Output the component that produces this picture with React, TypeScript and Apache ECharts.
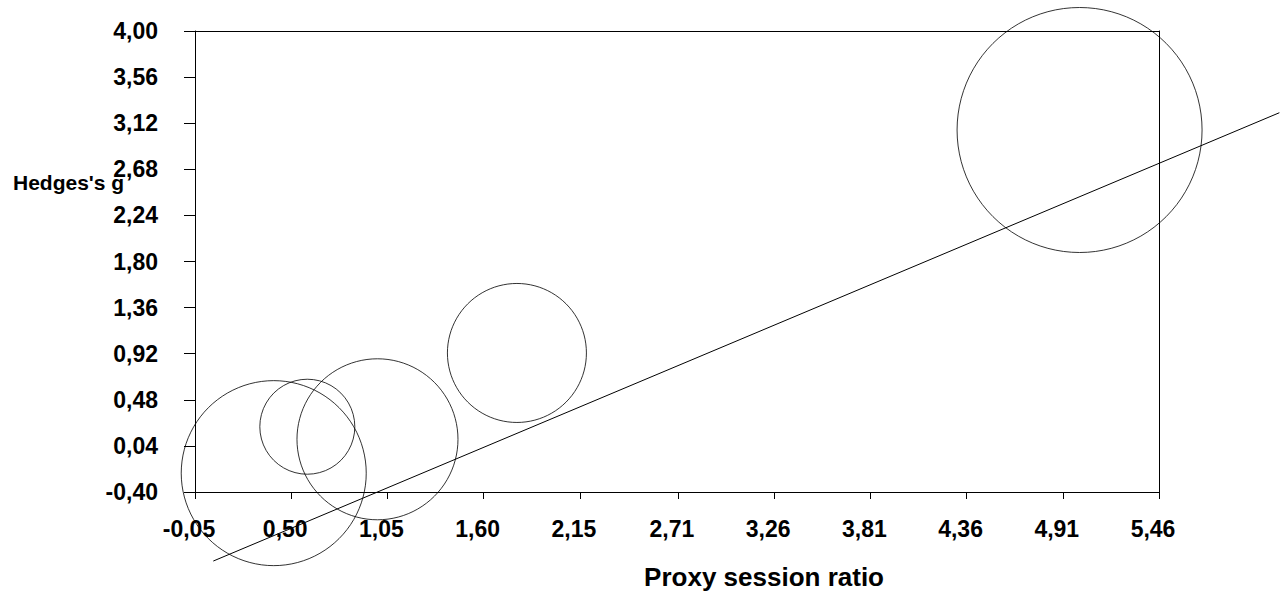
import React, { useEffect, useRef } from "react";
import * as echarts from "echarts";

// Bubble data: x = proxy session ratio, y = Hedges's g, size = bubble diameter (px)
const bubbleX = [0.4, 0.592, 0.993, 1.79, 5.006];
const bubbleY = [-0.22, 0.223, 0.103, 0.927, 3.055];
const bubbleSize = [185, 95, 161, 139, 245];

// Regression line end points
const lineX = [0.0546, 6.148];
const lineY = [-1.059, 3.22];

const xTicks = [-0.05, 0.5, 1.05, 1.6, 2.15, 2.71, 3.26, 3.81, 4.36, 4.91, 5.46];
const yTicks = [-0.4, 0.04, 0.48, 0.92, 1.36, 1.8, 2.24, 2.68, 3.12, 3.56, 4.0];

const xTitle = "Proxy session ratio";
const yTitle = "Hedges's g";

const FONT = "Liberation Sans, Arial, sans-serif";
const fmt = (v: number) => Number(v).toFixed(2).replace(".", ",");

export default function App() {
  const ref = useRef<HTMLDivElement>(null);
  useEffect(() => {
    if (!ref.current) return;
    const chart = echarts.init(ref.current, undefined, { renderer: "svg" });
    const bubbles = bubbleX.map((x, i) => [x, bubbleY[i], bubbleSize[i]]);
    const line = [[lineX[0], lineY[0], lineX[1], lineY[1]]];
    chart.setOption({
      animation: false,
      backgroundColor: "#fff",
      grid: { left: 195, top: 31, right: 125, bottom: 101, show: false },
      xAxis: [
        {
          type: "value",
          min: -0.05,
          max: 5.46,
          position: "bottom",
          splitLine: { show: false },
          axisLine: { show: true, onZero: false, lineStyle: { color: "#000", width: 1 } },
          axisTick: { show: true, length: 7, customValues: xTicks, lineStyle: { color: "#000" } },
          axisLabel: {
            customValues: xTicks,
            formatter: fmt,
            color: "#000",
            fontFamily: FONT,
            fontWeight: "bold",
            fontSize: 23,
            margin: 25,
            padding: [0, 12, 0, 0],
          },
        },
        {
          type: "value",
          min: -0.05,
          max: 5.46,
          position: "top",
          splitLine: { show: false },
          axisLine: { show: true, onZero: false, lineStyle: { color: "#000", width: 1 } },
          axisTick: { show: false },
          axisLabel: { show: false },
        },
      ],
      yAxis: [
        {
          type: "value",
          min: -0.4,
          max: 4.0,
          position: "left",
          splitLine: { show: false },
          axisLine: { show: true, onZero: false, lineStyle: { color: "#000", width: 1 } },
          axisTick: { show: true, length: 11, customValues: yTicks, lineStyle: { color: "#000" } },
          axisLabel: {
            customValues: yTicks,
            formatter: fmt,
            color: "#000",
            fontFamily: FONT,
            fontWeight: "bold",
            fontSize: 23,
            margin: 37,
            padding: [6, 0, 0, 0],
          },
        },
        {
          type: "value",
          min: -0.4,
          max: 4.0,
          position: "right",
          splitLine: { show: false },
          axisLine: { show: true, onZero: false, lineStyle: { color: "#000", width: 1 } },
          axisTick: { show: false },
          axisLabel: { show: false },
        },
      ],
      graphic: [
        {
          type: "text",
          left: 13,
          top: 172,
          z: 100,
          style: {
            text: yTitle,
            fill: "#000",
            font: `bold 21px ${FONT}`,
          },
        },
        {
          type: "text",
          x: 884,
          y: 577,
          style: {
            text: xTitle,
            fill: "#000",
            font: `bold 26px ${FONT}`,
            align: "right",
            verticalAlign: "middle",
          },
        },
      ],
      series: [
        {
          type: "custom",
          data: line,
          xAxisIndex: 0,
          yAxisIndex: 0,
          clip: false,
          silent: true,
          renderItem: (params: any, api: any) => {
            const p1 = api.coord([api.value(0), api.value(1)]);
            const p2 = api.coord([api.value(2), api.value(3)]);
            return {
              type: "line",
              shape: { x1: p1[0], y1: p1[1], x2: p2[0], y2: p2[1] },
              style: { stroke: "#000", lineWidth: 1 },
            };
          },
          encode: { x: [0, 2], y: [1, 3] },
        },
        {
          type: "scatter",
          data: bubbles,
          xAxisIndex: 0,
          yAxisIndex: 0,
          clip: false,
          symbolSize: (d: number[]) => d[2],
          itemStyle: { color: "rgba(0,0,0,0)", borderColor: "#000", borderWidth: 1 },
          silent: true,
        },
      ],
    });
    return () => chart.dispose();
  }, []);
  return (
    <div
      ref={ref}
      style={{ position: "fixed", left: 0, top: 0, width: 1284, height: 593 }}
    />
  );
}
